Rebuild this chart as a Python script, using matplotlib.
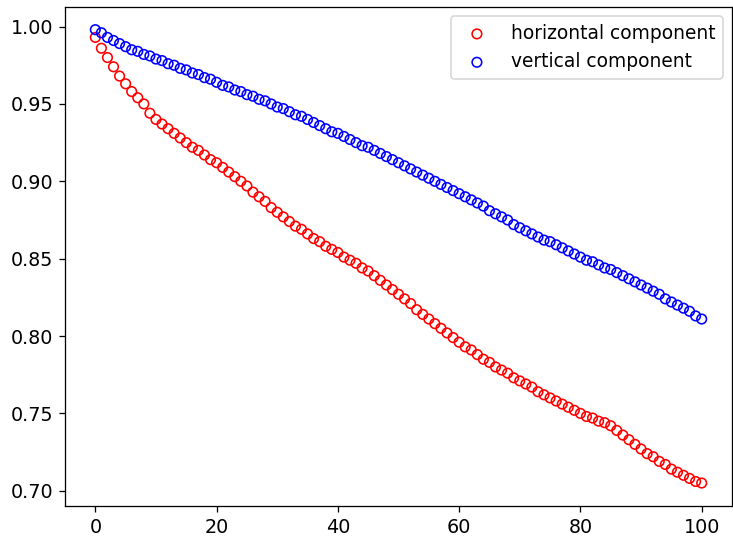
import numpy as np
import matplotlib
matplotlib.use("Agg")
import matplotlib.pyplot as plt

# sample index 0..100
steps = np.arange(101)

horizontal = [
    0.993, 0.986, 0.980, 0.974, 0.968, 0.963, 0.958, 0.954, 0.950, 0.944,
    0.940, 0.937, 0.934, 0.931, 0.928, 0.925, 0.922, 0.920, 0.917, 0.914,
    0.912, 0.909, 0.906, 0.903, 0.900, 0.897, 0.893, 0.890, 0.887, 0.883,
    0.880, 0.877, 0.874, 0.871, 0.869, 0.866, 0.863, 0.861, 0.858, 0.856,
    0.854, 0.851, 0.849, 0.847, 0.844, 0.842, 0.839, 0.836, 0.833, 0.830,
    0.827, 0.824, 0.821, 0.817, 0.814, 0.811, 0.808, 0.805, 0.802, 0.799,
    0.796, 0.793, 0.791, 0.788, 0.785, 0.783, 0.780, 0.778, 0.776, 0.773,
    0.771, 0.769, 0.767, 0.764, 0.762, 0.760, 0.758, 0.756, 0.754, 0.752,
    0.750, 0.748, 0.747, 0.745, 0.744, 0.742, 0.739, 0.736, 0.733, 0.730,
    0.727, 0.724, 0.722, 0.719, 0.717, 0.714, 0.712, 0.710, 0.708, 0.706,
    0.705,
]

vertical = [
    0.998, 0.996, 0.993, 0.991, 0.989, 0.987, 0.985, 0.984, 0.982, 0.981,
    0.979, 0.978, 0.976, 0.975, 0.973, 0.972, 0.970, 0.969, 0.967, 0.966,
    0.964, 0.962, 0.961, 0.959, 0.958, 0.956, 0.955, 0.953, 0.952, 0.950,
    0.948, 0.947, 0.945, 0.943, 0.942, 0.940, 0.938, 0.936, 0.934, 0.932,
    0.931, 0.929, 0.927, 0.925, 0.923, 0.922, 0.920, 0.918, 0.916, 0.914,
    0.912, 0.910, 0.908, 0.906, 0.904, 0.902, 0.900, 0.898, 0.896, 0.894,
    0.892, 0.890, 0.888, 0.886, 0.884, 0.881, 0.879, 0.877, 0.875, 0.872,
    0.870, 0.868, 0.866, 0.864, 0.862, 0.861, 0.859, 0.857, 0.855, 0.853,
    0.851, 0.849, 0.848, 0.846, 0.844, 0.843, 0.841, 0.839, 0.837, 0.835,
    0.833, 0.831, 0.829, 0.827, 0.824, 0.822, 0.820, 0.818, 0.816, 0.813,
    0.811,
]

plt.rcParams['font.size'] = 12

fig = plt.figure(figsize=(733 / 115, 543 / 115), dpi=115)
ax = fig.add_axes([65 / 733, 1 - 505.7 / 543, (732 - 65) / 733, (505.7 - 7) / 543])

ax.scatter(steps, horizontal, facecolors='none', edgecolors='red', label='horizontal component')
ax.scatter(steps, vertical, facecolors='none', edgecolors='blue', label='vertical component')

ax.tick_params(labelsize=12, length=4)
ax.legend(loc='upper right', fontsize=11.7)

fig.savefig('out.png', dpi=115)
